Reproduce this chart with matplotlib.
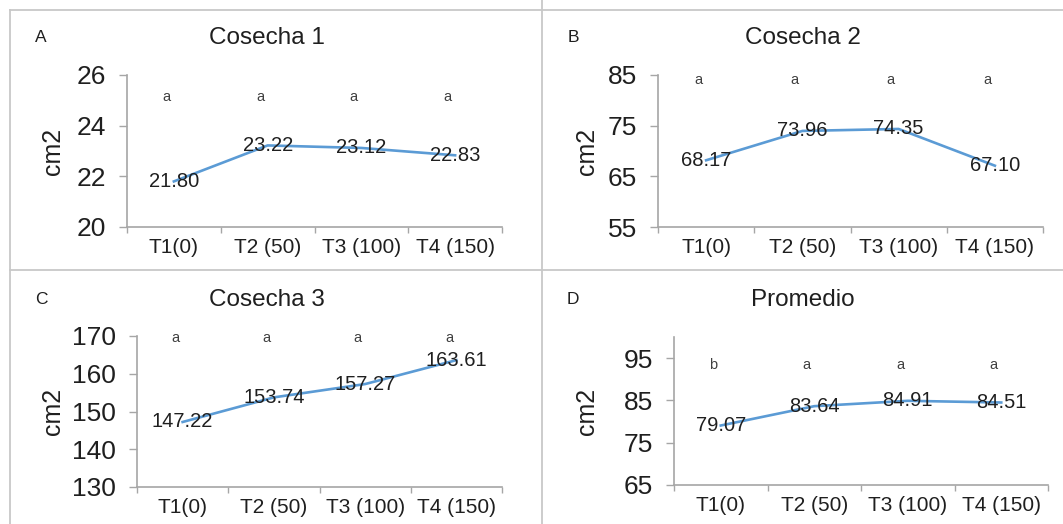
"""Area foliar por cosecha y promedio"""
import matplotlib
matplotlib.use('Agg')
import matplotlib.pyplot as plt
from matplotlib.lines import Line2D

plt.rcParams['font.family'] = ['Liberation Sans', 'DejaVu Sans']

W, H = 1063, 524

tratamientos = ['T1(0)', 'T2 (50)', 'T3 (100)', 'T4 (150)']

cosecha1 = [21.80, 23.22, 23.12, 22.83]
cosecha2 = [68.17, 73.96, 74.35, 67.10]
cosecha3 = [147.22, 153.74, 157.27, 163.61]
promedio = [79.07, 83.64, 84.91, 84.51]

letras1 = ['a', 'a', 'a', 'a']
letras2 = ['a', 'a', 'a', 'a']
letras3 = ['a', 'a', 'a', 'a']
letras4 = ['b', 'a', 'a', 'a']

titulos = ['Cosecha 1', 'Cosecha 2', 'Cosecha 3', 'Promedio']
paneles = ['A', 'B', 'C', 'D']

yticks1 = [20, 22, 24, 26]
yticks2 = [55, 65, 75, 85]
yticks3 = [130, 140, 150, 160, 170]
yticks4 = [65, 75, 85, 95]

# (left, right, top, bottom) in pixels, ylim, letter height (axes frac)
layout = [
    dict(box=(127, 502, 75, 227), ylim=(20, 26), ly=0.855, title=(267, 38), tag=(41, 38), lab=(53, 151)),
    dict(box=(658, 1043, 75, 227), ylim=(55, 85), ly=0.967, title=(803, 38), tag=(573, 38), lab=(587, 151)),
    dict(box=(137, 502, 336, 487), ylim=(130, 170), ly=0.985, title=(267, 300), tag=(41, 300), lab=(53, 411)),
    dict(box=(674, 1048, 337, 485), ylim=(65, 100), ly=0.81, title=(803, 300), tag=(573, 300), lab=(587, 411)),
]

series = [cosecha1, cosecha2, cosecha3, promedio]
letras = [letras1, letras2, letras3, letras4]
yticks = [yticks1, yticks2, yticks3, yticks4]

LINE = '#5b9bd5'
AXC = '#a6a6a6'
TXT = '#1f1f1f'

fig = plt.figure(figsize=(W / 100, H / 100), dpi=100)
fig.patch.set_facecolor('white')

# marcos de los paneles
frame = '#c8c8c8'
for xs, ys in [((10, W), (10, 10)), ((10, 10), (10, H)), ((542, 542), (0, H)), ((10, W), (270, 270))]:
    fig.add_artist(Line2D([x / W for x in xs], [1 - y / H for y in ys],
                          color=frame, lw=1.3, transform=fig.transFigure))

x = list(range(len(tratamientos)))

for i, cfg in enumerate(layout):
    l, r, t, b = cfg['box']
    ax = fig.add_axes([l / W, 1 - b / H, (r - l) / W, (b - t) / H])
    ax.plot(x, series[i], color=LINE, lw=1.9, zorder=2)
    for xi, v in zip(x, series[i]):
        ax.text(xi, v, f'{v:.2f}', ha='center', va='center', fontsize=14.5, color=TXT, zorder=3)
    for xi, s in zip(x, letras[i]):
        ax.text(xi - 0.08, cfg['ly'], s, transform=ax.get_xaxis_transform(), ha='center', va='center',
                fontsize=10.5, color='#404040')

    ax.set_xlim(-0.5, len(tratamientos) - 0.5)
    ax.set_ylim(*cfg['ylim'])
    ax.set_yticks(yticks[i])
    ax.set_xticks([k - 0.5 for k in range(len(tratamientos) + 1)])
    ax.set_xticklabels([])
    ax.set_xticks(x, minor=True)
    ax.set_xticklabels(tratamientos, minor=True, fontsize=15, color=TXT)
    ax.tick_params(axis='x', which='major', direction='out', length=4, width=1, color=AXC)
    ax.tick_params(axis='x', which='minor', length=0, pad=8)
    ax.tick_params(axis='y', direction='out', length=6, width=1, color=AXC, pad=9,
                   labelsize=19, labelcolor=TXT)
    for s in ['top', 'right']:
        ax.spines[s].set_visible(False)
    for s in ['left', 'bottom']:
        ax.spines[s].set_color(AXC)
        ax.spines[s].set_linewidth(1.2)
    ax.patch.set_alpha(0)

    tx, ty = cfg['title']
    fig.text(tx / W, 1 - ty / H, titulos[i], ha='center', va='center', fontsize=17.5, color=TXT)
    gx, gy = cfg['tag']
    fig.text(gx / W, 1 - gy / H, paneles[i], ha='center', va='center', fontsize=12.5, color=TXT)
    cx, cy = cfg['lab']
    fig.text(cx / W, 1 - cy / H, 'cm2', ha='center', va='center', rotation=90, fontsize=18, color=TXT)

fig.savefig('out.png', dpi=100)
